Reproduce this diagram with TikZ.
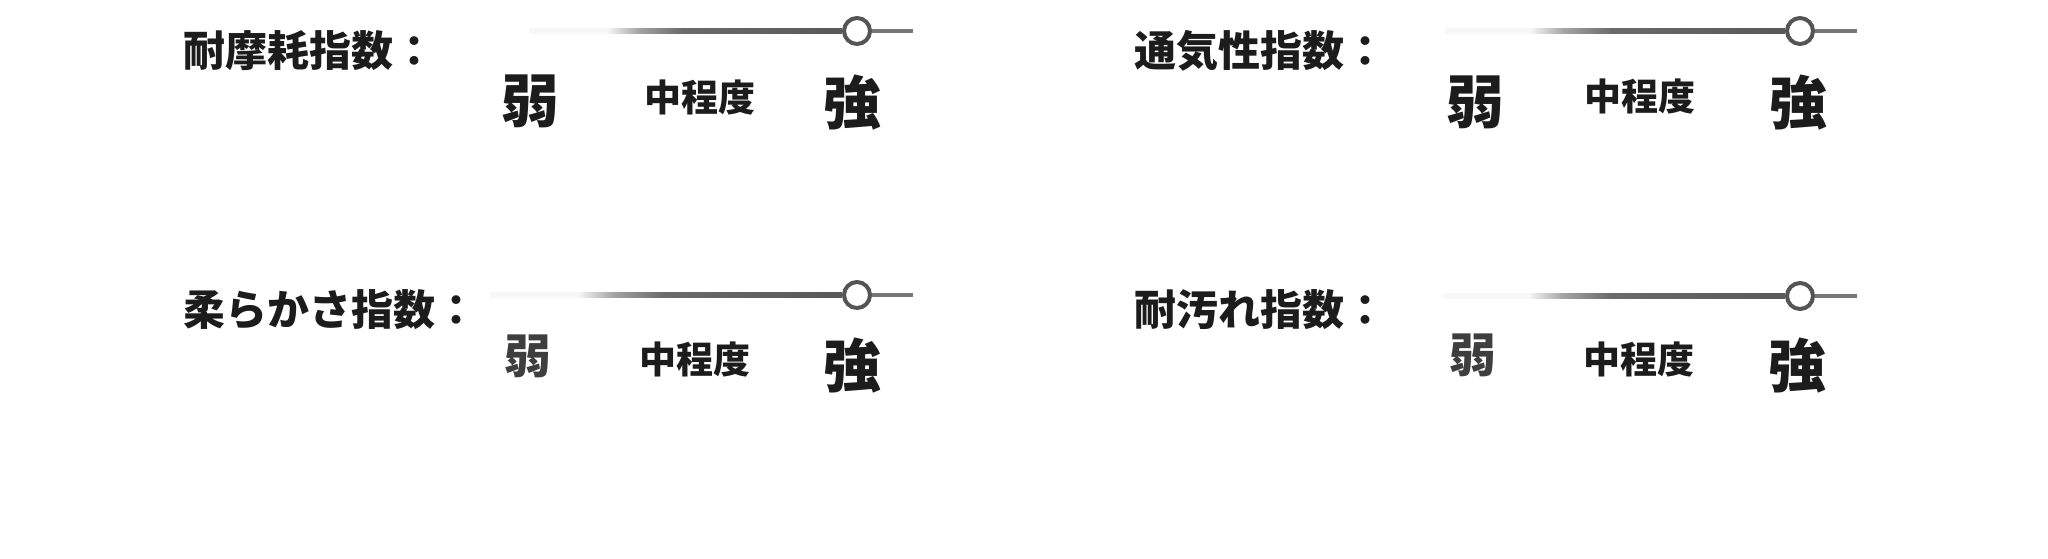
\documentclass[tikz,border=0pt]{standalone}
\usepackage{fontspec}
\usetikzlibrary{calc}
\newfontfamily\cjk{Noto Sans CJK JP}[UprightFont={* Black}]
\definecolor{ink}{HTML}{1C1C1C}
\definecolor{knob}{HTML}{555555}
\definecolor{tail}{HTML}{777777}
\definecolor{bar}{HTML}{5A5A5A}
\pgfdeclarehorizontalshading{barfade}{100bp}{color(0bp)=(white!95!bar); color(25bp)=(white!95!bar); color(30bp)=(bar!55!white); color(37bp)=(bar!90!white); color(60bp)=(bar); color(75bp)=(bar)}
\begin{document}
\begin{tikzpicture}[x=0.5pt,y=-0.5pt,
  titlelab/.style={anchor=west,inner sep=0pt,text=ink,font=\cjk\fontsize{21}{21}\selectfont},
  biglab/.style={inner sep=0pt,text=ink,font=\cjk\fontsize{29}{29}\selectfont},
  midlab/.style={inner sep=0pt,text=ink,font=\cjk\fontsize{18.5}{18.5}\selectfont},
  weaklab/.style={inner sep=0pt,text=ink!85,font=\cjk\fontsize{23.5}{23.5}\selectfont},
  knobc/.style={circle,draw=knob,line width=2pt,fill=white,minimum size=13pt,inner sep=0pt},
  barline/.style={shading=barfade},
  tailline/.style={draw=tail,line width=2.4pt}]
\useasboundingbox (0,0) rectangle (2048,558);
% ---------- top left ----------
\node[titlelab] (t1) at (183,51) {耐摩耗指数：};
\coordinate (s1) at (529,31);
\node[knobc] (k1) at (857,31) {};
\coordinate (e1) at (913,31);
\shade[barline] ($(s1)+(0,-2.6)$) rectangle ($(k1.west)+(0,2.6)$);
\draw[tailline] (k1.east) -- (e1);
\node[biglab] (w1) at (530,101) {弱};
\node[midlab] (m1) at (700,98) {中程度};
\node[biglab] (g1) at (852,103) {強};
% ---------- top right ----------
\node[titlelab] (t2) at (1134,51) {通気性指数：};
\coordinate (s2) at (1445,31);
\node[knobc] (k2) at (1800,31) {};
\coordinate (e2) at (1857,31);
\shade[barline] ($(s2)+(0,-2.6)$) rectangle ($(k2.west)+(0,2.6)$);
\draw[tailline] (k2.east) -- (e2);
\node[biglab] (w2) at (1475,102) {弱};
\node[midlab] (m2) at (1640,97) {中程度};
\node[biglab] (g2) at (1798,103) {強};
% ---------- bottom left ----------
\node[titlelab] (t3) at (183,310) {柔らかさ指数：};
\coordinate (s3) at (490,295);
\node[knobc] (k3) at (857,295) {};
\coordinate (e3) at (913,295);
\shade[barline] ($(s3)+(0,-2.6)$) rectangle ($(k3.west)+(0,2.6)$);
\draw[tailline] (k3.east) -- (e3);
\node[weaklab] (w3) at (528,356) {弱};
\node[midlab] (m3) at (695,360) {中程度};
\node[biglab] (g3) at (852,366) {強};
% ---------- bottom right ----------
\node[titlelab] (t4) at (1134,310) {耐汚れ指数：};
\coordinate (s4) at (1443,296);
\node[knobc] (k4) at (1800,296) {};
\coordinate (e4) at (1857,296);
\shade[barline] ($(s4)+(0,-2.6)$) rectangle ($(k4.west)+(0,2.6)$);
\draw[tailline] (k4.east) -- (e4);
\node[weaklab] (w4) at (1473,355) {弱};
\node[midlab] (m4) at (1639,360) {中程度};
\node[biglab] (g4) at (1797,366) {強};
\end{tikzpicture}
\end{document}
